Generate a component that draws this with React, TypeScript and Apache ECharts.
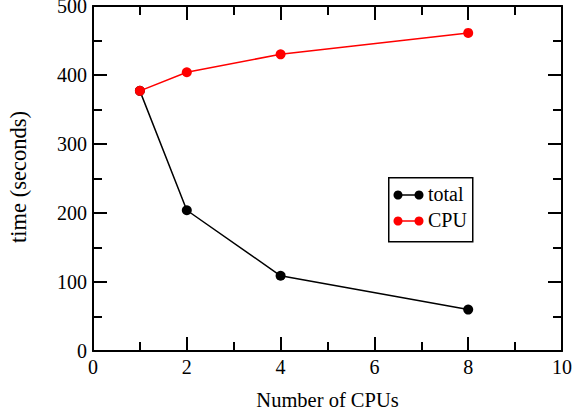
import React, { useEffect, useRef } from "react";
import * as echarts from "echarts";

const cpus = [1, 2, 4, 8];
const totalTimes = [377, 204, 109, 60];
const cpuTimes = [377, 404, 430, 461];
const legendLabels = ["total", "CPU"];
const xAxisTitle = "Number of CPUs";
const yAxisTitle = "time (seconds)";

const FONT = "Liberation Serif, Times New Roman, serif";

export default function App() {
  const ref = useRef<HTMLDivElement>(null);
  useEffect(() => {
    if (!ref.current) return;
    const chart = echarts.init(ref.current, null, { renderer: "svg" });
    const axisCommon = {
      type: "value" as const,
      axisLine: { show: true, onZero: false, lineStyle: { color: "#000", width: 2 } },
      axisTick: { show: true, inside: true, length: 14, lineStyle: { color: "#000", width: 2 } },
      minorTick: { show: true, splitNumber: 2, length: 9, lineStyle: { color: "#000", width: 2 } },
      splitLine: { show: false },
    };
    const labelStyle = { color: "#000", fontFamily: FONT, fontSize: 20 };
    const toPts = (ys: number[]) => cpus.map((x, i) => [x, ys[i]]);
    chart.setOption({
      animation: false,
      backgroundColor: "#fff",
      grid: { left: 93, right: 11, top: 6, bottom: 67, containLabel: false, outerBoundsMode: "none" },
      xAxis: [
        {
          ...axisCommon,
          min: 0,
          max: 10,
          interval: 2,
          position: "bottom",
          name: xAxisTitle,
          nameLocation: "middle",
          nameGap: 38,
          nameTextStyle: { color: "#000", fontFamily: FONT, fontSize: 20.5, verticalAlign: "top" },
          axisLabel: { ...labelStyle, margin: 6 },
        },
        {
          ...axisCommon,
          min: 0,
          max: 10,
          interval: 2,
          position: "top",
          axisLabel: { show: false },
        },
      ],
      yAxis: [
        {
          ...axisCommon,
          min: 0,
          max: 500,
          interval: 100,
          position: "left",
          axisLabel: { ...labelStyle, margin: 6 },
        },
        {
          ...axisCommon,
          min: 0,
          max: 500,
          interval: 100,
          position: "right",
          axisLabel: { show: false },
        },
      ],
      series: [
        {
          name: legendLabels[0],
          type: "line",
          data: toPts(totalTimes),
          symbol: "circle",
          symbolSize: 10,
          itemStyle: { color: "#000" },
          lineStyle: { color: "#000", width: 1.5 },
          z: 3,
        },
        {
          name: legendLabels[1],
          type: "line",
          data: toPts(cpuTimes),
          symbol: "circle",
          symbolSize: 10,
          itemStyle: { color: "#ff0000" },
          lineStyle: { color: "#ff0000", width: 1.5 },
          z: 4,
        },
      ],
      graphic: [
        {
          type: "text",
          x: 18,
          y: 177,
          rotation: Math.PI / 2,
          style: {
            text: yAxisTitle,
            fill: "#000",
            font: `22.5px ${FONT}`,
            align: "center",
            verticalAlign: "middle",
          },
        },
        {
          type: "rect",
          left: 388,
          top: 177,
          shape: { width: 84, height: 64 },
          style: { fill: "#fff", stroke: "#000", lineWidth: 1.5 },
          z: 10,
        },
        {
          type: "group",
          x: 394,
          y: 186,
          z: 11,
          children: [
            { type: "line", shape: { x1: 4, y1: 9, x2: 25, y2: 9 }, style: { stroke: "#000", lineWidth: 1.5 }, z: 11 },
            { type: "circle", shape: { cx: 4, cy: 9, r: 4.5 }, style: { fill: "#000" }, z: 11 },
            { type: "circle", shape: { cx: 25, cy: 9, r: 4.5 }, style: { fill: "#000" }, z: 11 },
            { type: "text", x: 34, y: 8, style: { text: legendLabels[0], fill: "#000", font: `20px ${FONT}`, verticalAlign: "middle" }, z: 11 },
            { type: "line", shape: { x1: 4, y1: 35, x2: 25, y2: 35 }, style: { stroke: "#ff0000", lineWidth: 1.5 }, z: 11 },
            { type: "circle", shape: { cx: 4, cy: 35, r: 4.5 }, style: { fill: "#ff0000" }, z: 11 },
            { type: "circle", shape: { cx: 25, cy: 35, r: 4.5 }, style: { fill: "#ff0000" }, z: 11 },
            { type: "text", x: 34, y: 34, style: { text: legendLabels[1], fill: "#000", font: `20px ${FONT}`, verticalAlign: "middle" }, z: 11 },
          ],
        },
      ],
    });
    return () => chart.dispose();
  }, []);
  return <div ref={ref} style={{ width: 573, height: 418, position: "absolute", left: 0, top: 0 }} />;
}
